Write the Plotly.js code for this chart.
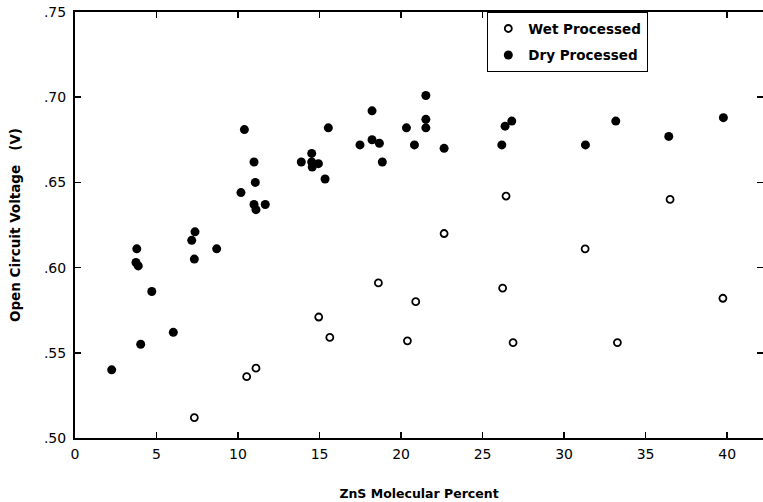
<!DOCTYPE html>
<html>
<head>
<meta charset="utf-8">
<script src="https://cdn.plot.ly/plotly-3.0.1.min.js"></script>
<style>html,body{margin:0;padding:0;background:#fff;}#chart{width:763px;height:502px;}</style>
</head>
<body>
<div id="chart"></div>
<script>
// Wet processed samples (ZnS mol %, open circuit voltage V)
const wetZnS = [7.32, 10.53, 11.10, 14.95, 15.63, 18.61, 20.39, 20.90, 22.64, 26.23, 26.44, 26.87, 31.29, 33.27, 36.50, 39.74];
const wetVoc = [0.512, 0.536, 0.541, 0.571, 0.559, 0.591, 0.557, 0.580, 0.620, 0.588, 0.642, 0.556, 0.611, 0.556, 0.640, 0.582];

// Dry processed samples
const dryZnS = [2.25, 3.79, 3.74, 3.88, 4.03, 4.71, 6.03, 7.16, 7.36, 7.32, 8.69, 10.18, 10.39, 10.98, 11.06, 10.98, 11.10, 11.67,
  13.88, 14.52, 14.52, 14.55, 14.93, 15.34, 15.54, 17.48, 18.22, 18.22, 18.67, 18.85, 20.33, 20.82, 21.52, 21.52, 21.52, 22.64,
  26.18, 26.38, 26.79, 31.31, 33.17, 36.42, 39.77];
const dryVoc = [0.540, 0.611, 0.603, 0.601, 0.555, 0.586, 0.562, 0.616, 0.621, 0.605, 0.611, 0.644, 0.681, 0.662, 0.650, 0.637, 0.634, 0.637,
  0.662, 0.667, 0.662, 0.659, 0.661, 0.652, 0.682, 0.672, 0.692, 0.675, 0.673, 0.662, 0.682, 0.672, 0.701, 0.687, 0.682, 0.670,
  0.672, 0.683, 0.686, 0.672, 0.686, 0.677, 0.688];

const xTickVals = [0, 5, 10, 15, 20, 25, 30, 35, 40];
const xTickText = ['0', '5', '10', '15', '20', '25', '30', '35', '40'];
const yTickVals = [0.50, 0.55, 0.60, 0.65, 0.70, 0.75];
const yTickText = ['.50', '.55', '.60', '.65', '.70', '.75'];

const traces = [
  {
    x: wetZnS, y: wetVoc, type: 'scatter', mode: 'markers', name: 'Wet Processed', legendgroup: 'wet',
    marker: {symbol: 'circle-open', size: 7, color: '#000', line: {width: 1.8, color: '#000'}}
  },
  {
    x: dryZnS, y: dryVoc, type: 'scatter', mode: 'markers', name: 'Dry Processed', legendgroup: 'dry',
    marker: {symbol: 'circle', size: 9, color: '#000'}
  }
];

const axisFont = {family: 'DejaVu Sans', size: 14, color: '#000'};
const layout = {
  width: 763, height: 502,
  margin: {l: 75, r: 0, t: 12, b: 64, pad: 0},
  paper_bgcolor: '#fff', plot_bgcolor: '#fff',
  showlegend: true,
  legend: {
    x: 0.599, y: 1, xanchor: 'left', yanchor: 'top',
    bgcolor: '#fff', bordercolor: '#000', borderwidth: 1.2,
    font: {family: 'DejaVu Sans', size: 13.5, color: '#000', weight: 'bold'},
    itemwidth: 30, tracegroupgap: 6
  },
  xaxis: {
    range: [0, 42.2], tickmode: 'array', tickvals: xTickVals, ticktext: xTickText,
    showgrid: false, zeroline: false, showline: true, linecolor: '#000', linewidth: 2,
    mirror: 'ticks', ticks: 'inside', ticklen: 6, tickwidth: 1.5, tickcolor: '#000',
    tickfont: axisFont, ticklabelstandoff: 2,
    title: {text: 'ZnS Molecular Percent', font: {family: 'DejaVu Sans', size: 12.5, color: '#000', weight: 'bold'}, standoff: 28}
  },
  yaxis: {
    range: [0.5, 0.75], tickmode: 'array', tickvals: yTickVals, ticktext: yTickText,
    showgrid: false, zeroline: false, showline: true, linecolor: '#000', linewidth: 2,
    mirror: 'ticks', ticks: 'inside', ticklen: 6, tickwidth: 1.5, tickcolor: '#000',
    tickfont: axisFont, ticklabelstandoff: 4,
    title: {text: 'Open Circuit Voltage&nbsp;&nbsp;&nbsp;(V)', font: {family: 'DejaVu Sans', size: 13.5, color: '#000', weight: 'bold'}, standoff: 20}
  }
};

Plotly.newPlot('chart', traces, layout, {displayModeBar: false, staticPlot: true});
</script>
</body>
</html>
